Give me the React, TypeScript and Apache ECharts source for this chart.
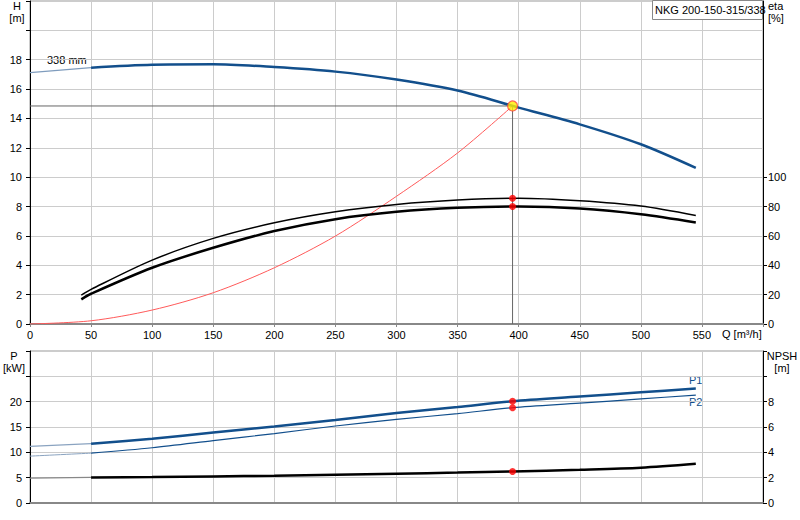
import { useEffect, useRef } from 'react';
import * as echarts from 'echarts';

// flow values (m³/h) and curve readings
const qH = [0, 50, 100, 150, 200, 250, 300, 350, 400, 450, 500, 545];
const headH = [17.12, 17.46, 17.66, 17.69, 17.5, 17.19, 16.65, 15.9, 14.74, 13.6, 12.24, 10.63];

const qEta = [42, 50, 100, 150, 200, 250, 300, 350, 400, 450, 500, 545];
const etaPump = [19.7, 23.6, 43.5, 58.3, 68.9, 76.4, 81.4, 84.4, 85.6, 83.9, 80.3, 73.9];
const etaTotal = [16.8, 20.6, 38.3, 51.9, 63.3, 71.4, 76.4, 79.1, 80, 78.7, 74.8, 69.2];

const qSys = [0, 50, 100, 150, 200, 250, 300, 350, 395];
const headSys = [0, 0.22, 0.95, 2.13, 3.83, 5.99, 8.7, 11.65, 14.85];

const qP = [0, 50, 100, 150, 200, 250, 300, 350, 395, 450, 500, 545];
const p1 = [11.16, 11.7, 12.7, 13.9, 15.1, 16.4, 17.75, 18.95, 20.08, 21.0, 21.85, 22.6];
const p2 = [9.25, 9.84, 10.9, 12.3, 13.7, 15.2, 16.5, 17.65, 18.8, 19.7, 20.55, 21.3];
const npsh = [1.97, 2.02, 2.05, 2.1, 2.15, 2.23, 2.31, 2.4, 2.49, 2.62, 2.78, 3.09];

// duty point
const dutyQ = 395;
const dutyH = 14.85;
const dutyEtaPump = 85.7;
const dutyEtaTotal = 80;
const dutyP1 = 20.08;
const dutyP2 = 18.8;
const dutyNpsh = 2.49;

const qTicks = [0, 50, 100, 150, 200, 250, 300, 350, 400, 450, 500, 550];

const BLUE = '#124f8c';
const FONT = 'Liberation Sans, Arial, sans-serif';

const pairs = (q: number[], v: number[]) => q.map((x, i) => [x, v[i]]);

function line(data: any, xi: number, yi: number, color: string, width: number, z = 3) {
  return {
    type: 'line', xAxisIndex: xi, yAxisIndex: yi, data, symbol: 'none', smooth: 0.3,
    lineStyle: { color, width }, z, silent: true,
  };
}

function dots(data: any, xi: number, yi: number) {
  return {
    type: 'scatter', xAxisIndex: xi, yAxisIndex: yi, data, symbolSize: 7,
    itemStyle: { color: '#ff0000' }, z: 10,
  };
}

const label = { fontSize: 11, color: '#000', fontFamily: FONT };

function buildOption() {
  const hPts = pairs(qH, headH);
  const p1Pts = pairs(qP, p1);
  const p2Pts = pairs(qP, p2);
  const nPts = pairs(qP, npsh);

  const txt = (x: number, y: number, text: string, align = 'left', color = '#000') => ({
    type: 'text', x, y, silent: true,
    style: { text, fill: color, font: `11px ${FONT}`, textAlign: align, textVerticalAlign: 'middle' },
  });

  return {
    animation: false,
    textStyle: { fontFamily: FONT },
    grid: [
      { left: 30, right: 37, top: 1, height: 323, show: true, borderColor: '#999', borderWidth: 1 },
      { left: 30, right: 37, top: 351, height: 152, show: true, borderColor: '#999', borderWidth: 1 },
    ],
    xAxis: [
      {
        type: 'value', gridIndex: 0, min: 0, max: 600, interval: 50,
        axisLine: { lineStyle: { color: '#888', width: 2 } },
        axisTick: { show: true, length: 3, lineStyle: { color: '#888' } },
        axisLabel: { ...label, margin: 5, customValues: qTicks },
        splitLine: { lineStyle: { color: '#ccc' } },
      },
      {
        type: 'value', gridIndex: 1, min: 0, max: 600, interval: 50,
        axisLine: { lineStyle: { color: '#888', width: 2 } },
        axisTick: { show: false },
        axisLabel: { show: false },
        splitLine: { lineStyle: { color: '#ccc' } },
      },
    ],
    yAxis: [
      {
        type: 'value', gridIndex: 0, min: 0, max: 22, interval: 2,
        axisLine: { show: true, lineStyle: { color: '#000' } },
        axisTick: { show: true, length: 4, lineStyle: { color: '#000' } },
        axisLabel: { ...label, margin: 8, formatter: (v: number) => (v <= 18 ? String(v) : '') },
        splitLine: { lineStyle: { color: '#ccc' } },
      },
      {
        type: 'value', gridIndex: 0, min: 0, max: 220, interval: 20, position: 'right',
        axisLine: { show: true, lineStyle: { color: '#000' } },
        axisTick: { show: true, length: 4, lineStyle: { color: '#000' }, customValues: [0, 20, 40, 60, 80, 100] },
        axisLabel: { ...label, margin: 5, customValues: [0, 20, 40, 60, 80, 100] },
        splitLine: { show: false },
      },
      {
        type: 'value', gridIndex: 1, min: 0, max: 30, interval: 5,
        axisLine: { show: true, lineStyle: { color: '#000' } },
        axisTick: { show: true, length: 4, lineStyle: { color: '#000' } },
        axisLabel: { ...label, margin: 8, formatter: (v: number) => (v <= 20 ? String(v) : '') },
        splitLine: { lineStyle: { color: '#ccc' } },
      },
      {
        type: 'value', gridIndex: 1, min: 0, max: 12, interval: 2, position: 'right',
        axisLine: { show: true, lineStyle: { color: '#000' } },
        axisTick: { show: true, length: 4, lineStyle: { color: '#000' } },
        axisLabel: { ...label, margin: 5, formatter: (v: number) => (v <= 8 ? String(v) : '') },
        splitLine: { show: false },
      },
    ],
    series: [
      // duty point guide lines
      { ...line([[0, dutyH], [dutyQ, dutyH]], 0, 0, '#666', 1, 2), smooth: false },
      { ...line([[dutyQ, 0], [dutyQ, dutyH]], 0, 0, '#666', 1, 2), smooth: false },
      // system curve
      line(pairs(qSys, headSys), 0, 0, '#ff5a5a', 1, 3),
      // head
      line(hPts.slice(0, 2), 0, 0, '#7f9cbd', 1.2, 4),
      line(hPts.slice(1), 0, 0, BLUE, 2.5, 4),
      // efficiencies
      line(pairs(qEta, etaPump), 0, 1, '#000', 1.5, 4),
      line(pairs(qEta, etaTotal), 0, 1, '#000', 2.5, 4),
      dots([[dutyQ, dutyEtaPump], [dutyQ, dutyEtaTotal]], 0, 1),
      {
        type: 'scatter', xAxisIndex: 0, yAxisIndex: 0, data: [[dutyQ, dutyH]], symbolSize: 10,
        itemStyle: { color: '#ffee00', borderColor: '#ff4040', borderWidth: 1.2 }, z: 11,
      },
      // power and NPSH
      line(p1Pts.slice(0, 2), 1, 2, '#8aa3c0', 1.2, 4),
      line(p1Pts.slice(1), 1, 2, BLUE, 2.5, 4),
      line(p2Pts.slice(0, 2), 1, 2, '#8aa3c0', 1, 4),
      line(p2Pts.slice(1), 1, 2, BLUE, 1.2, 4),
      line(nPts.slice(0, 2), 1, 3, '#888', 1.2, 4),
      line(nPts.slice(1), 1, 3, '#000', 2.5, 4),
      dots([[dutyQ, dutyP1], [dutyQ, dutyP2]], 1, 2),
      dots([[dutyQ, dutyNpsh]], 1, 3),
    ],
    graphic: [
      txt(17, 6, 'H', 'center'),
      txt(17, 18, '[m]', 'center'),
      txt(768, 6, 'eta'),
      txt(768, 18, '[%]'),
      txt(14, 356, 'P', 'center'),
      txt(14, 368, '[kW]', 'center'),
      txt(782, 356, 'NPSH', 'center'),
      txt(782, 368, '[m]', 'center'),
      txt(722, 334, 'Q [m³/h]'),
      txt(47, 60, '338 mm'),
      txt(689, 380, 'P1', 'left', BLUE),
      txt(689, 402, 'P2', 'left', BLUE),
      {
        type: 'rect', shape: { x: 652.5, y: 0.5, width: 110, height: 19 }, z: 20,
        style: { fill: '#fff', stroke: '#888', lineWidth: 1 },
      },
      { ...txt(655, 10, 'NKG 200-150-315/338'), z: 21 },
    ],
  };
}

export default function App() {
  const ref = useRef<HTMLDivElement>(null);

  useEffect(() => {
    if (!ref.current) return;
    const chart = echarts.init(ref.current, undefined, { renderer: 'svg' });
    chart.setOption(buildOption() as any);
    return () => chart.dispose();
  }, []);

  return (
    <div
      ref={ref}
      style={{ position: 'fixed', left: 0, top: 0, width: 800, height: 520, background: '#fff' }}
    />
  );
}
